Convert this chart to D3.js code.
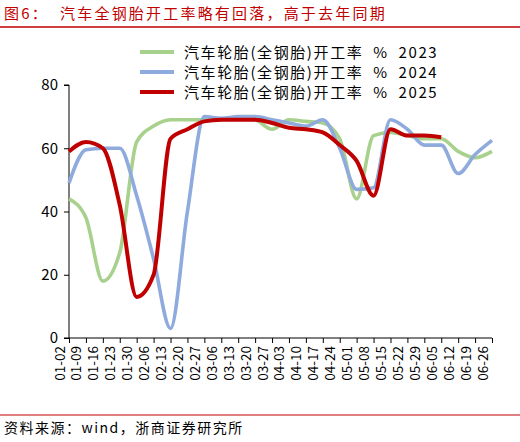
<!DOCTYPE html>
<html><head><meta charset="utf-8">
<script src="https://cdn.jsdelivr.net/npm/d3@7"></script>
<style>body{margin:0;background:#fff}text{font-family:"Noto Sans CJK SC","DejaVu Sans",sans-serif}</style>
</head><body><svg id="chart" width="520" height="442"></svg>
<script>
var dates = ["01-02","01-09","01-16","01-23","01-30","02-06","02-13","02-20","02-27","03-06","03-13","03-20","03-27","04-03","04-10","04-17","04-24","05-01","05-08","05-15","05-22","05-29","06-05","06-12","06-19","06-26"];
var v2023 = [44,38,18,27,62,67,69,69,69,69,69.5,69,66,69,68.5,68,63,44,64,65,64,63,63,59,57,59];
var v2024 = [49,59.5,60,60,45,25,3,40,70,69.5,70,70,69,68,67,69,60,47,47.5,69,66,61,61,52,58,62.5];
var v2025 = [59,62,60,42,13,20,63,66,68.5,69,69,69,68,66.5,66,65,61,56,45,66,64,64,63.5];
var yTicks = [0,20,40,60,80];
var seriesNames = ["汽车轮胎(全钢胎)开工率  %  2023","汽车轮胎(全钢胎)开工率  %  2024","汽车轮胎(全钢胎)开工率  %  2025"];
var colors = ["#a9d18e","#8faadc","#c00000"];

var svg = d3.select("#chart");

// title + rules
svg.append("text").attr("x",4).attr("y",19).style("font-size","15px").style("letter-spacing","2.2px").style("fill","#c00000")
  .attr("xml:space","preserve").text("图6：  汽车全钢胎开工率略有回落，高于去年同期");
svg.append("line").attr("x1",0).attr("x2",520).attr("y1",27).attr("y2",27).style("stroke","#c00000").style("stroke-width",1.5);
svg.append("line").attr("x1",0).attr("x2",520).attr("y1",415).attr("y2",415).style("stroke","#c00000").style("stroke-width",1);
svg.append("text").attr("x",4).attr("y",433).style("font-size","14px").style("letter-spacing","1.5px").text("资料来源：wind，浙商证券研究所");

var x = d3.scalePoint().domain(dates).range([69,492]);
var y = d3.scaleLinear().domain([0,80]).range([338,85]);

svg.append("g").attr("transform","translate(69,0)")
  .call(d3.axisLeft(y).tickValues(yTicks).tickSize(5))
  .call(g => g.selectAll("text").style("font-size","15px").attr("dx","-3"))
  .call(g => g.select(".domain").attr("d","M-5,85H0V338H-5").style("stroke","#000"));

svg.append("g").attr("transform","translate(0,338)")
  .call(d3.axisBottom(x).tickSize(5).tickSizeOuter(0))
  .call(g => g.select(".domain").attr("d","M69,0H492"))
  .call(g => g.selectAll("text").style("font-size","13.5px")
     .attr("transform","rotate(-90)").attr("x",-8).attr("y",-5).attr("dy","0").style("text-anchor","end"));

var line = d3.line().x((d,i) => x(dates[i])).y(d => y(d)).curve(d3.curveMonotoneX);
[v2023,v2024,v2025].forEach(function(s,k){
  svg.append("path").datum(s).attr("d",line).style("fill","none")
    .style("stroke",colors[k]).style("stroke-width",k==2?4:3.6).style("stroke-linejoin","round");
});

var leg = svg.selectAll(".leg").data(seriesNames).enter().append("g")
  .attr("transform",(d,i) => "translate(140,"+(52+i*20)+")");
leg.append("line").attr("x1",0).attr("x2",34).style("stroke",(d,i)=>colors[i]).style("stroke-width",4);
leg.append("text").attr("x",44).attr("y",6).style("font-size","15px").style("letter-spacing","1.6px")
  .attr("xml:space","preserve").text(d => d);
</script></body></html>
